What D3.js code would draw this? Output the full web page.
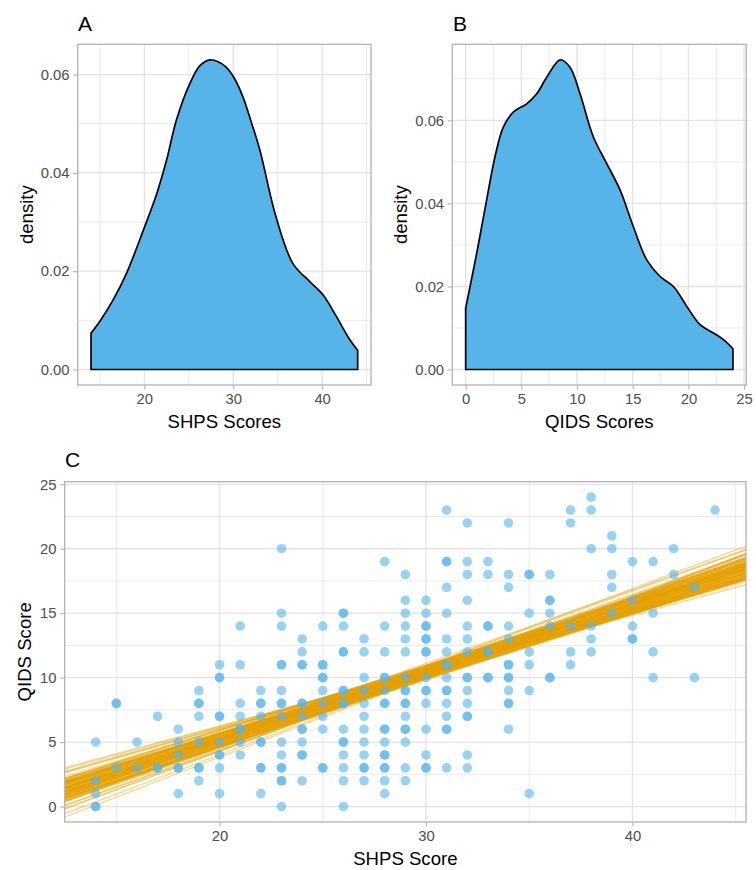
<!DOCTYPE html>
<html><head><meta charset="utf-8">
<script src="https://cdn.jsdelivr.net/npm/d3@7/dist/d3.min.js"></script>
<style>
body{margin:0;background:#fff}
text{font-family:"Liberation Sans",Arial,Helvetica,sans-serif}
</style></head>
<body><svg id="chart" width="756" height="870"></svg>
<script>
// ---------- Data ----------
// Panel A: density of SHPS scores
const shpsDensX = [14.0,15.0,16.5,18.0,19.9,21.4,22.5,23.6,25.1,26.3,27.4,28.3,29.2,30.2,31.1,32.0,33.0,34.8,36.7,38.6,40.1,41.6,43.1,44.0];
const shpsDensY = [0.0074,0.0098,0.0142,0.0196,0.0284,0.0358,0.0426,0.0507,0.0581,0.0619,0.0630,0.0626,0.0615,0.0590,0.0554,0.0505,0.0446,0.0311,0.0216,0.0179,0.0152,0.0108,0.0061,0.0039];
// Panel B: density of QIDS scores
const qidsDensX = [0,0.99,1.88,2.63,3.38,4.28,5.48,6.38,7.28,8.48,9.37,10.27,11.47,12.67,13.87,15.06,16.26,17.46,18.66,19.86,21.05,22.25,23.15,24.0];
const qidsDensY = [0.0148,0.0280,0.0408,0.0512,0.0584,0.0620,0.0640,0.0664,0.0704,0.0746,0.0728,0.0664,0.0560,0.0496,0.0432,0.0344,0.0264,0.0224,0.0200,0.0152,0.0108,0.0088,0.0072,0.0050];
// Panel C: individual scores, grouped by SHPS score
const shpsLevels = [14,15,16,17,18,19,20,21,22,23,24,25,26,27,28,29,30,31,32,33,34,35,36,37,38,39,40,41,42,43,44];
const qidsAtLevel = [
  [5,2,1,0,0],
  [8,8,3],
  [5,3],
  [7,3,3],
  [6,5,4,3,3,1],
  [9,8,8,7,5,3,3,2],
  [11,10,10,7,7,5,4,4,3,1],
  [14,11,8,7,6,6,5,4],
  [9,8,8,7,5,5,3,3,1],
  [20,15,14,11,11,9,8,8,7,5,4,3,3,2,2,0],
  [13,12,11,11,8,8,7,6,6,5,4,4,2],
  [14,11,11,10,10,9,8,7,6,3,3],
  [15,15,14,12,12,9,9,8,8,6,5,5,4,3,2,0],
  [13,12,10,9,8,7,6,5,4,3,3,2],
  [19,14,12,10,10,9,8,8,6,6,5,4,4,3,3,2,1],
  [18,16,15,14,13,12,10,9,9,8,8,7,6,6,5,3,2],
  [16,15,14,14,13,13,12,12,10,9,9,8,6,4,3,3],
  [23,19,19,17,15,13,12,11,11,10,9,9,8,7,6,6,3],
  [22,19,18,16,14,13,12,10,10,9,8,7,7,4,3],
  [19,18,14,14,12,12,10,10],
  [22,18,17,14,13,11,11,10,10,9,8,8,6],
  [18,18,15,12,11,9,1],
  [18,16,16,15,14,10,10],
  [23,22,14,12,11],
  [24,23,20,14,13,12],
  [21,20,18,17,15],
  [19,16,14,13,13],
  [19,15,12,10],
  [20,18],
  [17,10],
  [23]
];
// Panel C: regression draws (slope, fitted QIDS at SHPS = 28.5)
const drawCentreX = 28.5;
const drawSlopes = [0.52,0.49,0.55,0.50,0.54,0.51,0.56,0.48,0.53,0.57,0.50,0.53,0.47,0.52,0.55,0.51,0.49,0.54,0.52,0.50,0.56,0.53,0.48,0.51,0.55,0.52,0.49,0.54,0.50,0.53,0.51,0.57,0.48,0.52,0.55,0.50,0.53,0.46,0.51,0.54,0.52,0.49,0.56,0.50,0.53,0.51,0.55,0.48,0.52,0.54,0.50,0.53,0.47,0.51,0.56,0.52,0.49,0.54,0.50,0.55,0.51,0.53,0.48,0.52,0.57,0.50,0.54,0.51,0.49,0.53,0.52,0.55,0.50,0.48,0.54,0.51,0.53,0.46,0.56,0.52,0.50,0.54,0.49,0.53,0.51,0.55,0.52,0.47,0.58,0.50,0.61,0.62,0.58,0.60,0.44,0.45,0.59,0.43,0.60,0.57];
const drawCentres = [9.65,9.30,9.95,9.45,10.05,9.20,9.80,9.60,9.10,9.90,10.15,9.40,9.70,9.25,9.85,10.00,9.55,9.15,9.75,9.50,9.35,10.10,9.65,9.90,9.45,9.05,9.80,9.60,10.20,9.30,9.70,9.55,10.00,9.40,9.85,9.20,9.65,9.95,9.50,9.75,10.10,9.35,9.60,9.90,9.15,9.80,9.45,9.70,10.05,9.25,9.55,9.85,9.65,9.40,9.95,9.10,9.75,9.50,10.15,9.30,9.60,9.90,9.45,9.70,9.20,9.85,9.55,10.00,9.35,9.65,9.80,9.40,9.95,9.60,9.25,9.75,9.50,10.05,9.30,9.70,9.15,9.85,9.55,9.90,9.45,9.65,10.20,9.60,9.35,9.75,9.20,9.10,10.05,10.00,9.95,9.90,9.30,9.90,9.40,10.25];

// Axis ticks
const shpsTicks = [20,30,40], shpsMinor = [15,25,35,45];
const qidsTicks = [0,5,10,15,20,25], qidsMinor = [2.5,7.5,12.5,17.5,22.5];
const densTicks = [0,0.02,0.04,0.06];
const densMinorA = [0.01,0.03,0.05], densMinorB = [0.01,0.03,0.05,0.07];

// ---------- Style ----------
const BLUE = "#56B4E9", ORANGE = "#E69F00";
const GRID = "#E3E3E3", BORDER = "#B3B3B3", TICKTXT = "#4D4D4D";
const TICK_FS = 14.8, TITLE_FS = 18.6, TAG_FS = 21;
const TICKLEN = 4.6, TICKGAP = 3.6;

const svg = d3.select("#chart");

function panel(o) {
  const g = svg.append("g");
  const x = o.x, y = o.y;
  const [x0, x1] = x.range(), [y0, y1] = y.range(); // y0 bottom, y1 top
  // grid
  g.selectAll(null).data(o.xMinor).join("line")
    .attr("x1", d => x(d)).attr("x2", d => x(d)).attr("y1", y1).attr("y2", y0)
    .attr("stroke", GRID).attr("stroke-width", 0.7);
  g.selectAll(null).data(o.yMinor).join("line")
    .attr("y1", d => y(d)).attr("y2", d => y(d)).attr("x1", x0).attr("x2", x1)
    .attr("stroke", GRID).attr("stroke-width", 0.7);
  g.selectAll(null).data(o.xTicks).join("line")
    .attr("x1", d => x(d)).attr("x2", d => x(d)).attr("y1", y1).attr("y2", y0)
    .attr("stroke", GRID).attr("stroke-width", 1.3);
  g.selectAll(null).data(o.yTicks).join("line")
    .attr("y1", d => y(d)).attr("y2", d => y(d)).attr("x1", x0).attr("x2", x1)
    .attr("stroke", GRID).attr("stroke-width", 1.3);
  const content = svg.append("g");
  const fg = svg.append("g");
  // border
  fg.append("rect").attr("x", x0).attr("y", y1).attr("width", x1 - x0).attr("height", y0 - y1)
    .attr("fill", "none").attr("stroke", BORDER).attr("stroke-width", 1.3);
  // axes
  const xa = fg.append("g").attr("transform", `translate(0,${y0})`)
    .call(d3.axisBottom(x).tickValues(o.xTicks).tickFormat(o.xFmt).tickSizeInner(TICKLEN).tickSizeOuter(0).tickPadding(TICKGAP));
  const ya = fg.append("g").attr("transform", `translate(${x0},0)`)
    .call(d3.axisLeft(y).tickValues(o.yTicks).tickFormat(o.yFmt).tickSizeInner(TICKLEN).tickSizeOuter(0).tickPadding(TICKGAP));
  [xa, ya].forEach(a => {
    a.select(".domain").remove();
    a.selectAll(".tick line").attr("stroke", BORDER).attr("stroke-width", 1.1);
    a.selectAll(".tick text").attr("fill", TICKTXT).style("font-size", TICK_FS + "px")
      .style("font-family", '"Liberation Sans",Arial,sans-serif');
  });
  // titles
  fg.append("text").attr("x", (x0 + x1) / 2).attr("y", o.xTitleY).attr("text-anchor", "middle")
    .style("font-size", TITLE_FS + "px").attr("fill", "#000").text(o.xTitle);
  fg.append("text").attr("transform", `translate(${o.yTitleX},${(y0 + y1) / 2}) rotate(-90)`)
    .attr("text-anchor", "middle").attr("dominant-baseline", "central")
    .style("font-size", TITLE_FS + "px").attr("fill", "#000").text(o.yTitle);
  fg.append("text").attr("x", o.tagX).attr("y", o.tagY)
    .style("font-size", TAG_FS + "px").attr("fill", "#000").text(o.tag);
  return content;
}

function densityPanel(o, xs, ys) {
  const content = panel(o);
  const pts = xs.map((v, i) => [v, ys[i]]);
  const area = d3.area().x(d => o.x(d[0])).y1(d => o.y(d[1])).y0(o.y(0)).curve(d3.curveCatmullRom.alpha(0.5));
  content.append("path").datum(pts).attr("d", area)
    .attr("fill", BLUE).attr("stroke", "#000").attr("stroke-width", 1.7).attr("stroke-linejoin", "round");
}

// Panel A
const xA = d3.scaleLinear().domain([12.5, 45.5]).range([77.7, 371]);
const yA = d3.scaleLinear().domain([-0.00315, 0.06615]).range([385, 44.3]);
densityPanel({x: xA, y: yA, xTicks: shpsTicks, xMinor: shpsMinor, yTicks: densTicks, yMinor: densMinorA,
  xFmt: d3.format("d"), yFmt: d3.format(".2f"), xTitle: "SHPS Scores", yTitle: "density",
  xTitleY: 428, yTitleX: 26, tag: "A", tagX: 78, tagY: 31}, shpsDensX, shpsDensY);

// Panel B
const xB = d3.scaleLinear().domain([-1.2, 25.2]).range([452.3, 746.3]);
const yB = d3.scaleLinear().domain([-0.00373, 0.07833]).range([385, 44.3]);
densityPanel({x: xB, y: yB, xTicks: qidsTicks, xMinor: qidsMinor, yTicks: densTicks, yMinor: densMinorB,
  xFmt: d3.format("d"), yFmt: d3.format(".2f"), xTitle: "QIDS Scores", yTitle: "density",
  xTitleY: 428, yTitleX: 400, tag: "B", tagX: 453, tagY: 31}, qidsDensX, qidsDensY);

// Panel C
const xC = d3.scaleLinear().domain([12.5, 45.5]).range([64.7, 746]);
const yC = d3.scaleLinear().domain([-1.2, 25.2]).range([822, 481.7]);
const contentC = panel({x: xC, y: yC, xTicks: shpsTicks, xMinor: shpsMinor, yTicks: qidsTicks, yMinor: qidsMinor,
  xFmt: d3.format("d"), yFmt: d3.format("d"), xTitle: "SHPS Score", yTitle: "QIDS Score",
  xTitleY: 865, yTitleX: 24, tag: "C", tagX: 65, tagY: 467});

svg.append("defs").append("clipPath").attr("id", "clipC").append("rect")
  .attr("x", 64.7).attr("y", 481.7).attr("width", 746 - 64.7).attr("height", 822 - 481.7);

const [dx0, dx1] = xC.domain();
contentC.append("g").attr("clip-path", "url(#clipC)")
  .selectAll("line").data(drawSlopes.map((s, i) => ({s, c: drawCentres[i]}))).join("line")
  .attr("x1", xC(dx0)).attr("x2", xC(dx1))
  .attr("y1", d => yC(d.c + d.s * (dx0 - drawCentreX)))
  .attr("y2", d => yC(d.c + d.s * (dx1 - drawCentreX)))
  .attr("stroke", ORANGE).attr("stroke-width", 1.4).attr("stroke-opacity", 0.4);

const scatter = [];
shpsLevels.forEach((s, i) => qidsAtLevel[i].forEach(q => scatter.push({s, q})));
contentC.append("g").selectAll("circle").data(scatter).join("circle")
  .attr("cx", d => xC(d.s)).attr("cy", d => yC(d.q)).attr("r", 4.8)
  .attr("fill", BLUE).attr("fill-opacity", 0.6);
</script>
</body></html>
